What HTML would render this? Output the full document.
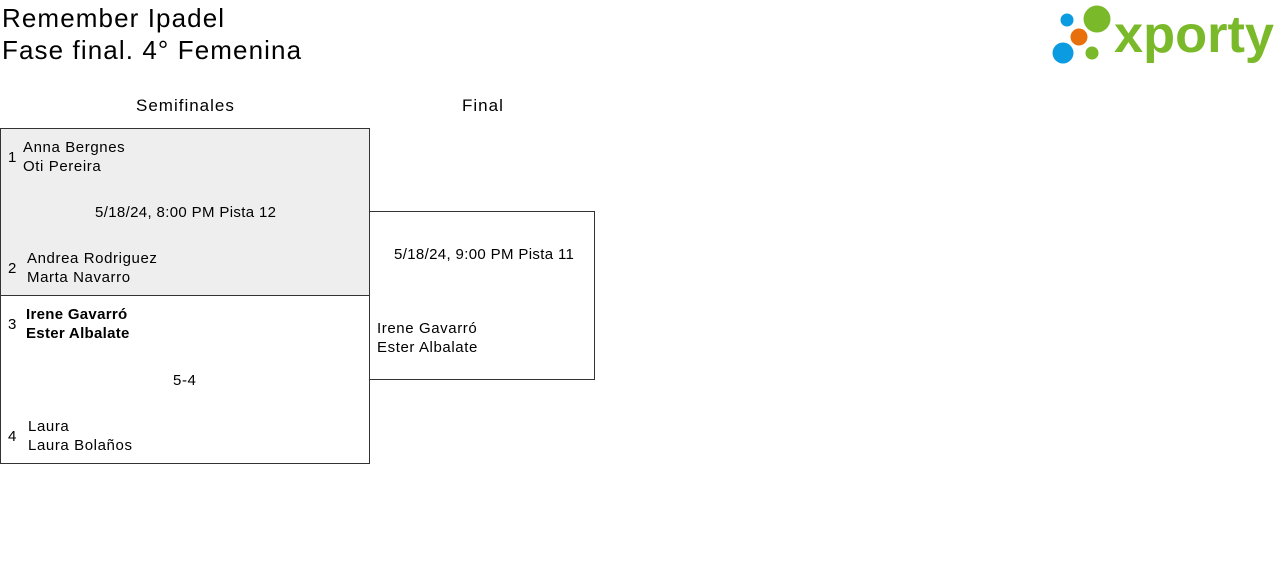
<!DOCTYPE html>
<html><head><meta charset="utf-8"><style>
body{margin:0;width:1280px;height:562px;background:#fff;font-family:"Liberation Sans",sans-serif;color:#000;position:relative;overflow:hidden}
.a{position:absolute;white-space:nowrap}
.t{font-size:26px;line-height:32px;letter-spacing:1.1px}
.box{position:absolute;border:1px solid #333;box-sizing:border-box}
.s{font-size:15px;line-height:19px;letter-spacing:0.6px}
.d{letter-spacing:0.35px}
.b{font-weight:bold;letter-spacing:0.3px}
</style></head><body>
<div class="a t" style="left:2px;top:2px">Remember Ipadel</div>
<div class="a t" style="left:2px;top:34px">Fase final. 4° Femenina</div>
<svg class="a" style="left:1040px;top:0" width="240" height="70">
<circle cx="27" cy="20" r="6.5" fill="#0a9be0"/>
<circle cx="57" cy="19" r="13.5" fill="#7ab929"/>
<circle cx="39" cy="37" r="8.5" fill="#e8700c"/>
<circle cx="23" cy="53" r="10.5" fill="#0a9be0"/>
<circle cx="52" cy="53" r="6.5" fill="#7ab929"/>
<text x="74" y="52" font-family="Liberation Sans" font-weight="bold" font-size="52" fill="#7ab929" textLength="160" lengthAdjust="spacingAndGlyphs">xporty</text>
</svg>
<div class="a" style="left:136px;top:96px;font-size:17px;letter-spacing:1px">Semifinales</div>
<div class="a" style="left:462px;top:96px;font-size:17px;letter-spacing:1px">Final</div>
<div class="box" style="left:0;top:128px;width:370px;height:168px;background:#eee"></div>
<div class="box" style="left:0;top:295px;width:370px;height:169px"></div>
<div class="box" style="left:369px;top:211px;width:226px;height:169px"></div>
<div class="a s" style="left:8px;top:148px">1</div>
<div class="a s" style="left:23px;top:138px">Anna Bergnes<br>Oti Pereira</div>
<div class="a s d" style="left:95px;top:203px">5/18/24, 8:00 PM Pista 12</div>
<div class="a s" style="left:8px;top:259px">2</div>
<div class="a s" style="left:27px;top:249px">Andrea Rodriguez<br>Marta Navarro</div>
<div class="a s" style="left:8px;top:315px">3</div>
<div class="a s b" style="left:26px;top:305px">Irene Gavarró<br>Ester Albalate</div>
<div class="a s" style="left:173px;top:371px">5-4</div>
<div class="a s" style="left:8px;top:427px">4</div>
<div class="a s" style="left:28px;top:417px">Laura<br>Laura Bolaños</div>
<div class="a s d" style="left:394px;top:245px">5/18/24, 9:00 PM Pista 11</div>
<div class="a s" style="left:377px;top:319px">Irene Gavarró<br>Ester Albalate</div>
</body></html>
